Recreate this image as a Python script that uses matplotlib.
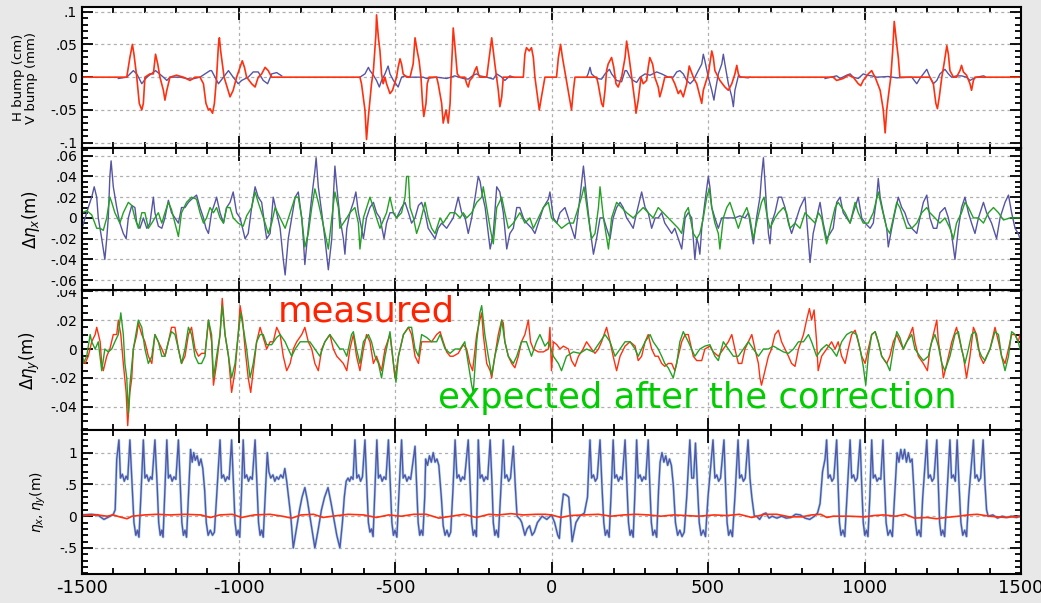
import numpy as np
import matplotlib
matplotlib.use("Agg")
from matplotlib import pyplot as plt
from matplotlib.ticker import MultipleLocator, FixedLocator, FuncFormatter
from matplotlib.transforms import Bbox, TransformedBbox

# ---- panel 1: orbit bumps (x, value) ----
bump_h = [(-1500, 0), (-1357, 0), (-1347, 0.03), (-1339, 0.05), (-1334, 0.035), (-1325, 0),
          (-1317, -0.04), (-1309, -0.05), (-1304, -0.04), (-1299, 0), (-1283, 0.005), (-1272, 0.005),
          (-1265, 0.035), (-1258, 0.02), (-1251, 0), (-1240, -0.02), (-1235, -0.035), (-1229, -0.02),
          (-1219, 0), (-1198, 0.003), (-1176, 0), (-1155, -0.005), (-1139, 0), (-1123, 0),
          (-1112, -0.01), (-1104, -0.04), (-1096, -0.05), (-1091, -0.048), (-1083, -0.055),
          (-1077, -0.04), (-1070, 0), (-1064, 0.05), (-1061, 0.06), (-1057, 0.04), (-1046, 0),
          (-1027, -0.03), (-1017, -0.02), (-1006, 0), (-988, 0.025), (-981, 0.015), (-974, 0),
          (-958, -0.01), (-947, -0.015), (-937, 0), (-926, 0.005), (-915, 0.015), (-905, 0.01),
          (-894, 0), (-612, 0), (-607, -0.01), (-596, -0.05), (-591, -0.095), (-585, -0.06),
          (-580, -0.035), (-575, -0.01), (-569, 0.01), (-561, 0.065), (-559, 0.095), (-553, 0.06),
          (-548, 0.04), (-543, 0.005), (-538, -0.01), (-532, 0), (-527, -0.01), (-516, -0.025),
          (-508, -0.02), (-495, 0), (-490, 0.015), (-484, 0.028), (-479, 0.02), (-474, 0.005),
          (-463, 0), (-452, 0), (-442, 0.02), (-436, 0.06), (-429, 0.04), (-423, 0.025), (-417, 0),
          (-412, -0.04), (-408, -0.06), (-401, -0.04), (-397, -0.01), (-391, 0), (-367, 0),
          (-362, -0.01), (-351, -0.04), (-346, -0.07), (-337, -0.05), (-330, -0.07), (-324, -0.04),
          (-321, 0), (-317, 0.04), (-314, 0.075), (-309, 0.05), (-301, 0.005), (-293, 0), (-277, 0),
          (-271, -0.01), (-266, -0.015), (-261, -0.005), (-252, 0), (-245, 0.01), (-239, 0.016),
          (-234, 0.005), (-229, 0), (-207, 0), (-199, 0.03), (-191, 0.06), (-186, 0.04),
          (-181, 0.02), (-170, -0.02), (-165, -0.045), (-159, -0.03), (-154, 0), (-90, 0),
          (-85, 0.035), (-80, 0.045), (-71, 0.04), (-64, 0.045), (-58, 0.03), (-53, 0),
          (-42, -0.04), (-39, -0.05), (-32, -0.03), (-21, 0), (16, 0), (22, 0.03), (29, 0.05),
          (35, 0.03), (46, 0), (57, -0.03), (64, -0.05), (70, -0.02), (75, 0), (144, 0),
          (149, -0.01), (160, -0.04), (165, -0.045), (171, -0.02), (176, 0.01), (181, 0.02),
          (192, 0.03), (199, 0.015), (206, -0.01), (213, -0.015), (224, 0), (235, 0.03),
          (240, 0.055), (248, 0.03), (256, 0), (267, -0.04), (270, -0.055), (277, -0.035),
          (286, 0), (293, -0.01), (304, -0.005), (309, 0.015), (314, 0.03), (323, 0.02), (330, 0),
          (341, -0.015), (346, -0.03), (352, -0.02), (362, 0), (384, 0), (394, -0.01),
          (405, -0.025), (412, -0.02), (421, -0.03), (432, -0.01), (440, 0.017), (453, 0),
          (464, -0.01), (480, -0.04), (485, -0.02), (501, 0.005), (512, 0.04), (517, 0.03),
          (522, 0.01), (538, -0.005), (554, -0.015), (565, -0.02), (576, -0.01), (586, 0.005),
          (592, 0.018), (597, 0.005), (602, 0), (900, 0), (911, -0.005), (932, -0.002),
          (948, 0.003), (964, 0), (980, -0.01), (988, -0.013), (996, -0.005), (1012, 0.005),
          (1023, 0.01), (1028, 0.005), (1034, 0), (1050, -0.02), (1060, -0.05), (1066, -0.085),
          (1071, -0.05), (1076, -0.03), (1084, 0), (1090, 0.04), (1095, 0.085), (1103, 0.05),
          (1108, 0.03), (1113, 0), (1209, 0), (1220, -0.01), (1228, -0.04), (1233, -0.048),
          (1239, -0.03), (1247, 0), (1254, 0.02), (1263, 0.048), (1268, 0.035), (1273, 0.01),
          (1284, 0), (1294, 0), (1305, 0.01), (1310, 0.018), (1316, 0.008), (1326, 0.003),
          (1337, -0.01), (1342, -0.02), (1348, -0.005), (1353, 0), (1500, 0)]

bump_v_1 = [(-1384, -0.002), (-1357, 0), (-1336, 0.01), (-1325, 0.005), (-1309, -0.01), (-1293, 0),
            (-1265, 0.01), (-1240, 0), (-1229, -0.005), (-1219, 0), (-1187, 0), (-1166, -0.002),
            (-1150, -0.003), (-1123, 0), (-1091, 0.01), (-1086, 0.01), (-1075, 0), (-1064, -0.01),
            (-1048, 0), (-1032, 0.01), (-1017, 0), (-1001, -0.01), (-990, -0.005), (-969, 0),
            (-953, 0.008), (-937, 0.008), (-921, -0.005), (-907, -0.01), (-894, 0.005),
            (-878, 0.007), (-862, 0.002)]
bump_v_2 = [(-612, 0), (-596, 0.005), (-585, 0.015), (-580, 0.01), (-569, 0.003), (-559, -0.005),
            (-550, -0.015), (-543, -0.005), (-532, 0.005), (-522, 0.017), (-516, 0.005),
            (-505, -0.005), (-490, -0.015), (-479, 0), (-468, 0.002), (-452, 0), (-410, 0),
            (-399, -0.002), (-367, 0), (-335, -0.002), (-309, 0.002), (-282, -0.002),
            (-266, -0.003), (-250, 0.003), (-239, 0.005), (-229, 0.002), (-207, 0), (-186, -0.003),
            (-175, 0.005), (-159, 0), (-149, -0.005), (-133, 0.002), (-122, 0)]
bump_v_3 = [(112, 0), (117, 0.005), (123, 0.015), (128, 0.005), (144, -0.002), (160, -0.003),
            (171, 0.005), (185, 0.012), (192, 0.005), (208, -0.005), (224, -0.007), (235, 0.01),
            (240, 0.01), (251, 0), (261, -0.005), (272, -0.008), (283, 0), (299, 0.005),
            (315, 0.003), (336, 0.008), (352, 0.005), (373, 0), (389, 0), (400, 0.008), (410, 0.01),
            (421, 0.005), (432, -0.005), (443, -0.01), (453, -0.005), (469, 0.01), (480, 0.02),
            (485, 0.035), (490, 0.025), (501, 0), (512, -0.02), (519, -0.035), (522, -0.025),
            (533, 0.005), (544, 0.02), (549, 0.035), (554, 0.02), (565, -0.01), (576, -0.03),
            (581, -0.045), (586, -0.02), (597, 0.002), (608, 0), (629, -0.001), (634, 0)]
bump_v_4 = [(874, -0.002), (911, 0.002), (922, -0.002), (943, 0.003), (954, 0.005), (964, 0),
            (980, -0.002), (996, 0.005), (1007, 0.003), (1023, 0.002), (1039, 0), (1076, 0.001),
            (1103, -0.001), (1151, 0), (1167, -0.01), (1177, -0.002), (1188, 0.005), (1199, 0.012),
            (1209, 0), (1220, -0.01), (1231, -0.005), (1241, 0.005), (1257, 0.012), (1268, 0.005),
            (1278, 0), (1294, 0.002), (1310, 0.002), (1326, 0), (1337, -0.005), (1348, -0.002),
            (1359, 0), (1380, 0.002), (1385, 0.001)]

# ---- panel 2: horizontal dispersion error ----
deta_x_meas = [(-1500, -0.01), (-1490, 0), (-1480, 0.01), (-1469, 0.02), (-1461, 0.03), (-1453, 0.02),
               (-1448, 0), (-1437, -0.02), (-1427, -0.04), (-1421, -0.02), (-1416, 0), (-1411, 0.04),
               (-1407, 0.055), (-1400, 0.03), (-1389, 0.01), (-1379, -0.005), (-1368, -0.015),
               (-1359, -0.02), (-1352, 0), (-1341, 0.012), (-1331, 0.01), (-1325, -0.005),
               (-1315, -0.01), (-1304, 0), (-1293, -0.01), (-1283, -0.005), (-1272, 0.02),
               (-1267, 0.005), (-1256, -0.008), (-1245, -0.01), (-1235, 0), (-1224, 0.017),
               (-1214, 0.005), (-1203, 0), (-1192, -0.005), (-1182, 0.01), (-1171, 0.01),
               (-1160, 0.015), (-1150, 0.018), (-1134, 0.022), (-1123, 0.01), (-1112, 0),
               (-1104, -0.01), (-1096, -0.015), (-1086, 0.005), (-1075, 0.015), (-1070, 0.02),
               (-1059, 0.005), (-1048, -0.005), (-1038, 0.01), (-1027, 0.015), (-1017, 0.025),
               (-1006, 0.005), (-995, 0), (-979, -0.02), (-969, -0.015), (-958, 0.01), (-947, 0.03),
               (-937, 0.02), (-926, 0.015), (-915, -0.01), (-910, -0.02), (-899, -0.015),
               (-889, 0.02), (-878, 0.005), (-867, -0.01), (-857, -0.04), (-851, -0.055),
               (-841, -0.02), (-830, 0), (-819, 0.02), (-809, 0.025), (-798, 0), (-793, -0.02),
               (-788, -0.045), (-777, -0.01), (-766, 0.02), (-756, 0.045), (-752, 0.058),
               (-745, 0.03), (-734, 0.005), (-724, -0.02), (-713, -0.05), (-702, -0.02),
               (-697, 0.02), (-692, 0.05), (-686, 0.03), (-676, 0), (-665, -0.02), (-660, -0.035),
               (-654, -0.01), (-644, 0.005), (-633, 0.015), (-625, 0.025), (-617, 0.005),
               (-607, -0.01), (-601, -0.02), (-591, 0), (-580, 0.01), (-569, 0.015), (-559, 0.005),
               (-548, 0), (-535, -0.02), (-527, -0.005), (-516, 0.005), (-505, 0.005), (-495, 0),
               (-479, 0.01), (-468, 0.015), (-457, 0.005), (-447, -0.005), (-436, 0), (-425, 0.012),
               (-415, 0.015), (-404, 0.005), (-394, -0.01), (-372, -0.02), (-362, -0.01),
               (-351, -0.005), (-335, -0.01), (-314, 0), (-298, 0.02), (-287, 0.005), (-276, 0),
               (-266, -0.015), (-255, 0), (-244, 0.02), (-234, 0.04), (-228, 0.035), (-223, 0.025),
               (-212, 0.01), (-202, -0.015), (-196, -0.03), (-186, -0.015), (-175, 0.03),
               (-165, 0.025), (-154, 0.005), (-143, -0.03), (-133, -0.015), (-122, -0.01),
               (-111, 0.01), (-101, 0.01), (-90, 0), (-79, -0.005), (-63, -0.01), (-53, -0.015),
               (-37, 0), (-26, 0.01), (-10, 0.018), (-5, 0.025), (6, 0), (17, -0.005), (27, 0.005),
               (43, 0.01), (59, -0.005), (75, -0.02), (91, 0.02), (102, 0.05), (112, 0.02),
               (123, -0.01), (134, -0.035), (144, -0.02), (155, 0), (166, 0), (176, -0.01),
               (187, -0.02), (197, 0), (208, 0.01), (219, 0.015), (229, 0.01), (240, 0),
               (251, -0.005), (261, -0.01), (272, 0.005), (288, 0.025), (299, 0.01), (309, 0.005),
               (320, -0.01), (331, 0), (341, 0), (352, 0.005), (362, -0.005), (373, -0.01),
               (384, -0.015), (394, -0.01), (405, -0.02), (416, -0.03), (427, 0), (437, 0.005),
               (448, 0), (453, -0.02), (458, -0.04), (464, -0.02), (469, -0.025), (474, -0.035),
               (480, -0.01), (490, 0.015), (501, 0.04), (506, 0.03), (512, 0.01), (522, 0),
               (533, -0.01), (544, 0), (560, 0), (586, 0), (602, 0.002), (618, 0), (629, 0.005),
               (640, -0.015), (645, -0.025), (655, 0), (666, 0.02), (671, 0.04), (677, 0.058),
               (682, 0.035), (687, 0.01), (693, -0.015), (698, -0.025), (703, -0.005), (714, 0.005),
               (725, 0.02), (735, 0.02), (746, 0.01), (757, -0.005), (767, -0.015), (778, -0.005),
               (794, 0.01), (810, 0.02), (815, 0), (826, -0.043), (836, -0.015), (847, 0),
               (858, 0.015), (868, -0.005), (879, -0.02), (890, -0.015), (900, -0.01), (911, 0.015),
               (922, 0.02), (932, 0.005), (943, 0), (954, -0.005), (964, 0.005), (975, 0.015),
               (980, 0.02), (991, 0), (1002, -0.005), (1018, -0.01), (1028, -0.005), (1039, 0.02),
               (1044, 0.038), (1050, 0.02), (1060, 0.005), (1071, -0.01), (1076, -0.028),
               (1087, -0.01), (1097, 0.005), (1108, 0.02), (1119, 0.01), (1129, 0.005),
               (1140, -0.005), (1151, -0.01), (1167, -0.015), (1177, 0), (1188, 0.015),
               (1199, 0.022), (1209, 0), (1220, -0.01), (1231, -0.01), (1241, 0.005), (1257, 0.01),
               (1268, 0), (1278, -0.015), (1289, -0.04), (1300, -0.01), (1310, 0.01), (1321, 0.02),
               (1332, 0.005), (1342, -0.005), (1353, -0.015), (1364, 0), (1380, 0.015),
               (1390, 0.005), (1406, -0.005), (1422, -0.02), (1433, 0), (1449, 0.015),
               (1460, 0.022), (1470, 0.005), (1481, -0.01), (1491, -0.015), (1497, -0.02)]

deta_x_corr = [(-1500, 0.005), (-1485, 0.007), (-1469, 0.003), (-1453, -0.01), (-1442, -0.01),
               (-1432, -0.012), (-1421, 0), (-1411, 0.02), (-1405, 0.015), (-1395, 0.005),
               (-1379, -0.005), (-1368, 0.005), (-1352, 0.015), (-1341, 0.012), (-1331, 0),
               (-1320, -0.01), (-1309, 0.005), (-1299, 0.005), (-1288, -0.01), (-1277, -0.005),
               (-1267, 0), (-1256, 0.005), (-1245, -0.005), (-1235, 0.005), (-1224, 0.015),
               (-1214, 0.008), (-1203, -0.005), (-1192, -0.018), (-1182, 0.005), (-1166, 0.015),
               (-1150, 0.02), (-1134, 0.018), (-1123, 0.005), (-1112, -0.005), (-1102, 0),
               (-1091, 0.01), (-1080, 0.005), (-1070, 0.01), (-1059, 0), (-1048, -0.005),
               (-1038, 0.01), (-1027, 0.01), (-1017, 0), (-1001, -0.005), (-985, -0.008),
               (-974, 0.002), (-958, 0.01), (-947, 0.025), (-937, 0.015), (-926, 0.005),
               (-915, -0.005), (-905, -0.015), (-894, -0.005), (-883, 0.01), (-867, 0),
               (-851, -0.01), (-835, 0.005), (-819, 0.02), (-809, 0.02), (-798, 0), (-788, -0.028),
               (-777, -0.015), (-766, 0.01), (-756, 0.028), (-745, 0.015), (-734, 0),
               (-713, -0.03), (-702, 0), (-692, 0.025), (-681, 0.01), (-676, -0.01), (-654, 0),
               (-644, 0.005), (-628, 0.01), (-617, -0.005), (-612, -0.03), (-601, 0), (-580, 0.02),
               (-569, 0.01), (-559, 0), (-548, -0.01), (-527, 0.005), (-516, 0.02), (-505, 0.005),
               (-495, 0), (-479, 0.005), (-468, 0.02), (-463, 0.04), (-457, 0.04), (-452, 0.01),
               (-441, 0), (-431, -0.015), (-420, -0.005), (-404, 0.015), (-394, 0), (-383, -0.01),
               (-372, -0.015), (-356, 0), (-346, -0.005), (-324, 0.005), (-308, 0.005), (-292, 0),
               (-282, 0.005), (-271, 0), (-255, 0.005), (-239, 0.015), (-223, 0.02), (-218, 0.03),
               (-207, 0.01), (-196, -0.01), (-186, -0.025), (-175, 0.01), (-159, 0.02),
               (-149, 0.005), (-138, -0.01), (-122, -0.005), (-101, 0.005), (-85, -0.005),
               (-69, 0), (-58, -0.01), (-42, 0), (-26, 0.01), (-10, 0.015), (0, 0), (17, -0.005),
               (32, -0.01), (54, -0.005), (70, -0.005), (86, 0.01), (96, 0.02), (104, 0.03),
               (118, 0), (128, -0.02), (139, -0.015), (150, 0.01), (155, 0.03), (166, 0),
               (182, -0.03), (192, 0), (208, 0.015), (224, 0.01), (240, 0.005), (261, 0),
               (277, 0.005), (293, 0.01), (309, 0.005), (325, 0), (341, 0.01), (357, 0.005),
               (373, 0), (389, -0.005), (405, -0.01), (416, -0.015), (427, 0.005), (437, 0.01),
               (453, -0.015), (464, -0.02), (474, -0.015), (485, 0), (496, 0.02), (504, 0.028),
               (512, 0.01), (522, -0.005), (533, -0.015), (538, -0.03), (549, 0), (560, 0.01),
               (570, 0.015), (581, 0.005), (597, -0.01), (608, 0), (624, 0.01), (634, 0),
               (645, -0.02), (655, -0.005), (671, 0.015), (679, 0.02), (687, 0.005), (698, -0.01),
               (714, 0), (725, 0.005), (741, 0.01), (751, 0.005), (762, -0.01), (778, -0.005),
               (794, -0.01), (810, 0.005), (826, 0), (842, -0.005), (853, 0.005), (863, 0),
               (879, -0.025), (890, -0.01), (906, 0.01), (916, 0.015), (927, 0.01), (938, 0.005),
               (954, -0.005), (970, 0.015), (980, 0.005), (996, -0.005), (1012, -0.005),
               (1028, 0.005), (1044, 0.025), (1055, 0.01), (1071, -0.01), (1081, -0.015),
               (1092, 0), (1103, 0.015), (1113, 0.01), (1124, 0), (1135, -0.01), (1151, -0.01),
               (1167, -0.005), (1183, 0.005), (1199, 0.01), (1209, 0.005), (1225, 0),
               (1241, -0.005), (1257, 0), (1273, -0.01), (1284, -0.02), (1294, -0.005),
               (1310, 0.005), (1321, 0.015), (1332, 0.01), (1348, 0), (1364, 0), (1380, -0.005),
               (1396, 0.005), (1412, 0.01), (1428, 0.005), (1444, -0.002), (1465, 0), (1481, 0),
               (1497, 0)]

# ---- panel 3: vertical dispersion error ----
deta_y_meas = [(-1500, -0.005), (-1490, -0.01), (-1480, -0.005), (-1469, 0.005), (-1458, 0.01),
               (-1453, 0.015), (-1442, 0.005), (-1437, -0.01), (-1432, -0.015), (-1421, -0.005),
               (-1411, 0), (-1400, 0.01), (-1389, 0.01), (-1384, 0.02), (-1376, 0.01),
               (-1368, -0.01), (-1359, -0.03), (-1354, -0.053), (-1347, -0.03), (-1341, -0.02),
               (-1336, 0), (-1325, 0.01), (-1320, 0.018), (-1309, 0.01), (-1299, 0.005),
               (-1288, -0.005), (-1277, -0.01), (-1267, 0.01), (-1256, 0.005), (-1245, 0),
               (-1235, -0.005), (-1224, 0.005), (-1214, 0.015), (-1203, 0.015), (-1192, 0),
               (-1182, -0.01), (-1171, -0.005), (-1160, 0.01), (-1150, 0.015), (-1139, 0),
               (-1128, -0.005), (-1118, -0.003), (-1107, -0.003), (-1096, 0.02), (-1086, 0.005),
               (-1080, -0.025), (-1070, -0.01), (-1059, 0.01), (-1052, 0.035), (-1043, 0.01),
               (-1032, -0.005), (-1022, -0.03), (-1011, -0.015), (-1001, 0.01), (-995, 0.03),
               (-987, 0.02), (-979, 0), (-969, -0.02), (-961, -0.03), (-953, -0.015),
               (-942, 0.005), (-931, 0.015), (-921, 0.008), (-910, 0), (-899, 0.005), (-889, 0.005),
               (-878, 0.015), (-867, 0.01), (-857, -0.005), (-846, -0.015), (-835, -0.01),
               (-825, 0), (-814, 0.005), (-798, 0.01), (-788, 0.015), (-777, 0.005), (-766, 0),
               (-756, -0.01), (-745, -0.015), (-734, 0), (-724, 0.005), (-708, 0.01), (-697, 0),
               (-686, -0.005), (-665, -0.01), (-654, -0.015), (-644, 0), (-633, 0.01),
               (-623, -0.005), (-612, -0.015), (-601, 0), (-591, 0.01), (-580, 0.005),
               (-569, -0.01), (-559, -0.005), (-543, -0.015), (-532, 0), (-516, 0.01),
               (-505, -0.01), (-500, -0.02), (-489, -0.005), (-473, 0.01), (-457, 0.015),
               (-447, 0.01), (-436, -0.005), (-425, -0.01), (-415, 0.005), (-399, 0.005),
               (-383, 0.005), (-367, 0.01), (-356, 0.012), (-346, 0.005), (-335, -0.002),
               (-324, -0.005), (-314, -0.005), (-298, -0.003), (-282, 0.003), (-271, 0),
               (-261, -0.01), (-252, -0.015), (-239, 0.01), (-229, 0.02), (-223, 0.025),
               (-218, 0.01), (-207, -0.01), (-196, -0.015), (-191, -0.02), (-181, -0.005),
               (-170, 0.01), (-159, 0.02), (-154, 0.018), (-149, 0.005), (-138, -0.005),
               (-127, -0.01), (-117, -0.013), (-106, -0.005), (-96, 0.005), (-85, 0.01),
               (-74, 0.02), (-67, 0.005), (-58, 0), (-42, -0.002), (-26, -0.002), (-10, 0),
               (-5, 0.015), (0, -0.015), (6, 0.005), (17, 0.003), (27, 0), (38, 0.002), (54, 0),
               (64, -0.008), (75, -0.012), (86, -0.005), (101, 0), (112, 0.005), (128, 0),
               (139, -0.003), (150, 0), (160, 0.005), (176, 0.015), (187, 0.005), (197, -0.005),
               (208, -0.015), (219, -0.005), (235, 0.002), (251, 0.005), (267, 0.002),
               (277, -0.008), (288, -0.005), (299, 0.005), (309, 0.01), (320, 0), (331, -0.005),
               (341, -0.005), (352, -0.01), (362, -0.012), (373, -0.01), (384, -0.01),
               (394, -0.015), (405, -0.005), (416, 0.005), (427, 0.01), (437, 0.01), (453, -0.005),
               (464, -0.008), (480, -0.008), (490, 0), (506, 0.002), (517, -0.002), (533, -0.005),
               (549, 0), (565, 0.005), (576, 0.01), (586, 0), (597, -0.01), (608, -0.01), (618, 0),
               (629, 0.005), (640, 0.01), (650, 0), (661, -0.01), (666, -0.02), (671, -0.025),
               (682, -0.015), (693, -0.005), (703, 0), (714, 0.01), (725, 0.013), (735, 0.005),
               (746, 0), (757, -0.005), (767, -0.01), (778, -0.012), (789, 0), (805, 0.01),
               (815, 0.02), (824, 0.028), (831, 0.02), (839, 0.027), (847, 0.005), (852, -0.015),
               (863, -0.005), (879, 0), (895, 0.005), (906, 0), (916, 0.005), (927, -0.005),
               (938, -0.01), (948, 0), (959, 0.01), (970, 0.013), (980, 0.005), (991, -0.005),
               (1002, -0.01), (1012, 0), (1023, 0.01), (1034, 0.012), (1044, 0.005),
               (1055, -0.005), (1071, -0.01), (1081, -0.005), (1092, 0.005), (1103, 0.01),
               (1113, 0.005), (1124, 0), (1135, 0.005), (1145, 0.01), (1154, 0.015),
               (1161, 0.005), (1172, -0.005), (1188, -0.01), (1201, -0.015), (1209, 0),
               (1220, 0.01), (1231, 0.02), (1236, 0.005), (1247, -0.01), (1252, -0.02),
               (1263, -0.01), (1279, 0.005), (1294, 0.015), (1305, 0.005), (1316, -0.005),
               (1326, -0.02), (1337, -0.005), (1348, 0.015), (1358, 0.01), (1369, -0.005),
               (1380, -0.01), (1390, -0.005), (1401, 0), (1417, 0.015), (1428, 0.005),
               (1438, -0.005), (1449, -0.01), (1460, 0), (1470, 0.01), (1481, 0.01),
               (1491, 0.005), (1497, 0.01)]

deta_y_corr = [(-1500, 0), (-1496, -0.01), (-1485, -0.005), (-1474, 0.01), (-1469, 0.005),
               (-1458, 0), (-1448, 0.005), (-1437, -0.015), (-1427, 0), (-1416, -0.002),
               (-1405, 0), (-1395, 0.005), (-1384, 0.01), (-1376, 0.025), (-1368, 0.01),
               (-1363, -0.01), (-1357, -0.02), (-1352, -0.045), (-1347, -0.025), (-1336, 0),
               (-1320, 0.02), (-1309, 0.015), (-1299, 0), (-1288, -0.01), (-1277, -0.005),
               (-1267, 0.01), (-1256, 0.005), (-1245, -0.005), (-1235, -0.005), (-1224, 0.005),
               (-1214, 0.012), (-1203, 0.01), (-1192, 0), (-1182, -0.01), (-1171, 0),
               (-1160, 0.015), (-1150, 0.01), (-1139, -0.005), (-1128, -0.01), (-1118, -0.01),
               (-1107, -0.005), (-1096, 0.02), (-1086, 0.01), (-1080, -0.02), (-1070, -0.005),
               (-1059, 0.01), (-1052, 0.03), (-1043, 0.01), (-1032, -0.005), (-1022, -0.02),
               (-1011, -0.01), (-1001, 0.01), (-993, 0.025), (-985, 0.015), (-974, 0),
               (-963, -0.02), (-953, -0.01), (-942, 0.005), (-931, 0.01), (-921, 0.01),
               (-910, 0.003), (-894, 0.003), (-878, 0.008), (-867, 0.01), (-851, 0.005),
               (-841, 0), (-830, -0.005), (-819, 0), (-803, 0.005), (-788, 0.005), (-772, 0.005),
               (-756, 0), (-740, -0.005), (-724, 0.005), (-708, 0.01), (-692, 0.005), (-676, 0),
               (-665, 0), (-654, -0.005), (-639, 0.01), (-633, 0.012), (-623, 0), (-612, -0.01),
               (-601, 0.005), (-585, 0.01), (-575, 0.005), (-564, -0.005), (-553, -0.01),
               (-543, -0.02), (-532, -0.005), (-516, 0.012), (-505, -0.01), (-497, -0.023),
               (-489, -0.005), (-473, 0.01), (-457, 0.015), (-447, 0.015), (-436, 0),
               (-425, -0.005), (-415, 0.01), (-399, 0.008), (-383, 0.005), (-367, 0.005),
               (-356, 0.01), (-340, 0), (-324, -0.003), (-308, 0), (-292, 0), (-277, 0.005),
               (-266, -0.01), (-255, -0.025), (-250, -0.03), (-239, 0.005), (-229, 0.025),
               (-223, 0.03), (-213, 0.01), (-202, -0.005), (-191, -0.018), (-181, -0.005),
               (-165, 0.01), (-159, 0.02), (-149, 0.005), (-138, -0.005), (-122, -0.01),
               (-111, -0.005), (-96, 0.005), (-80, 0.005), (-64, -0.005), (-48, 0.005),
               (-37, 0.01), (-21, 0.002), (-10, 0.005), (6, -0.005), (22, -0.01), (32, -0.015),
               (48, -0.005), (70, -0.002), (91, -0.003), (112, 0), (133, -0.002), (155, 0.005),
               (171, 0.01), (187, 0.005), (203, -0.005), (219, 0), (235, 0.005), (251, 0.005),
               (267, 0), (277, -0.005), (288, 0), (299, 0.005), (315, 0.01), (325, 0.005),
               (341, 0), (352, -0.005), (362, -0.01), (373, -0.013), (389, -0.02), (400, -0.01),
               (410, 0.005), (421, 0.012), (437, 0.005), (458, -0.005), (474, 0), (490, 0.002),
               (506, 0.003), (522, -0.005), (533, -0.008), (549, 0.005), (565, 0), (581, -0.005),
               (597, -0.005), (613, 0), (629, 0.005), (645, 0), (661, -0.005), (677, 0), (693, 0),
               (709, 0.002), (725, 0), (741, -0.002), (757, -0.003), (773, 0), (789, 0.005),
               (805, 0.005), (821, 0.01), (831, 0.005), (847, -0.005), (863, 0), (879, 0.003),
               (895, 0), (911, -0.005), (927, 0.005), (943, 0.01), (959, 0.012), (975, 0.01),
               (986, 0), (996, -0.012), (1004, -0.025), (1012, -0.005), (1023, 0.01),
               (1034, 0.012), (1044, 0.005), (1055, -0.005), (1071, -0.01), (1081, -0.015),
               (1092, 0), (1103, 0.012), (1113, 0.008), (1124, 0), (1135, 0.005), (1151, 0.01),
               (1161, 0), (1177, -0.005), (1188, -0.008), (1204, -0.005), (1215, 0.005),
               (1225, 0.01), (1236, 0.002), (1247, -0.01), (1257, -0.015), (1273, -0.005),
               (1289, 0.01), (1300, 0.012), (1310, 0), (1321, -0.01), (1332, 0), (1342, 0.01),
               (1353, 0.012), (1364, 0), (1374, -0.005), (1385, -0.008), (1401, 0), (1417, 0.012),
               (1428, 0.01), (1438, -0.005), (1449, -0.015), (1460, -0.005), (1470, 0.012),
               (1481, 0.01), (1491, 0.005), (1497, 0)]

# ---- panel 4: design dispersion ----
eta_x = [(-1500, 0.02), (-1470, 0.03), (-1450, 0.02), (-1430, -0.05), (-1410, 0), (-1400, 0.03),
         (-1394, 0.1), (-1389, 0.9), (-1382, 1.2), (-1377, 0.6), (-1371, 0.66), (-1365, 0.55),
         (-1359, 0.63), (-1354, 0.58), (-1347, 1.2), (-1340, 0.5), (-1334, -0.1), (-1328, -0.3),
         (-1323, -0.22), (-1318, -0.33), (-1312, 0.3),
         (-1304, 1.2), (-1299, 0.6), (-1293, 0.65), (-1287, 0.55), (-1281, 0.62), (-1276, 0.58),
         (-1267, 1.2), (-1260, 0.5), (-1255, -0.1), (-1250, -0.3), (-1245, -0.22), (-1241, -0.33),
         (-1236, 0.3),
         (-1229, 1.2), (-1224, 0.6), (-1218, 0.65), (-1212, 0.55), (-1206, 0.62), (-1200, 0.58),
         (-1192, 1.2), (-1186, 0.5), (-1181, -0.1), (-1176, -0.3), (-1171, -0.22), (-1166, -0.33),
         (-1160, 0.3),
         (-1153, 1.05), (-1148, 0.85), (-1143, 1.0), (-1138, 0.88), (-1132, 0.95), (-1126, 0.8),
         (-1120, 0.9), (-1114, 0.75), (-1108, 0.4), (-1103, -0.1), (-1097, -0.3), (-1090, -0.22),
         (-1083, -0.3), (-1077, -0.25), (-1070, 0.3),
         (-1059, 1.2), (-1054, 0.6), (-1048, 0.65), (-1042, 0.55), (-1036, 0.62), (-1030, 0.58),
         (-1022, 1.2), (-1016, 0.5), (-1011, -0.1), (-1006, -0.3), (-1001, -0.22), (-996, -0.33),
         (-991, 0.3),
         (-985, 1.2), (-980, 0.6), (-974, 0.65), (-968, 0.55), (-962, 0.62), (-956, 0.58),
         (-947, 1.2), (-941, 0.5), (-936, -0.1), (-931, -0.3), (-926, -0.22), (-921, -0.33),
         (-915, 0.3),
         (-908, 1.0), (-903, 0.7), (-897, 0.6), (-890, 0.65), (-884, 0.55), (-878, 0.62),
         (-872, 0.58), (-865, 0.65), (-858, 0.6), (-852, 0.75), (-846, 0.55), (-840, 0.3),
         (-833, 0), (-825, -0.5),
         (-815, -0.2), (-805, 0.1), (-797, 0.3), (-788, 0.45), (-780, 0.25), (-772, 0),
         (-764, -0.25), (-756, -0.5), (-745, -0.2), (-735, 0.1), (-725, 0.3), (-714, 0.45),
         (-704, 0.2), (-695, -0.05), (-686, -0.3), (-676, -0.5), (-668, -0.1), (-662, 0.3),
         (-656, 0.55), (-650, 0.6), (-645, 0.55), (-640, 0.62), (-634, 0.58),
         (-628, 1.2), (-622, 0.6), (-616, 0.65), (-610, 0.55), (-604, 0.62), (-596, 1.2),
         (-590, 0.5), (-585, -0.1), (-580, -0.25), (-575, -0.2), (-570, -0.32), (-565, 0.3),
         (-558, 1.2), (-553, 0.6), (-547, 0.65), (-541, 0.55), (-535, 0.62), (-529, 0.58),
         (-521, 1.2), (-515, 0.5), (-510, -0.1), (-505, -0.3), (-500, -0.22), (-494, -0.33),
         (-488, 0.3),
         (-479, 1.2), (-474, 0.6), (-468, 0.65), (-462, 0.55), (-456, 0.62), (-450, 0.58),
         (-436, 1.1), (-431, 0.5), (-426, -0.1), (-421, -0.3), (-416, -0.22), (-411, -0.3),
         (-405, 0.3),
         (-402, 0.9), (-396, 0.8), (-390, 0.95), (-384, 0.85), (-378, 1.0), (-372, 0.85),
         (-366, 0.9), (-360, 0.8), (-352, 0.3), (-346, -0.15), (-340, -0.3), (-334, -0.22),
         (-328, -0.32), (-322, -0.25), (-315, 0.4),
         (-308, 1.2), (-302, 0.6), (-296, 0.65), (-290, 0.55), (-284, 0.62), (-278, 0.58),
         (-266, 1.2), (-260, 0.5), (-255, -0.1), (-250, -0.3), (-245, -0.22), (-240, -0.32),
         (-237, 0.3),
         (-234, 1.2), (-228, 0.6), (-222, 0.65), (-216, 0.55), (-210, 0.62), (-204, 0.58),
         (-196, 1.2), (-190, 0.5), (-186, -0.1), (-181, -0.3), (-176, -0.22), (-170, -0.33),
         (-163, 0.3),
         (-154, 1.2), (-149, 0.6), (-143, 0.65), (-137, 0.55), (-131, 0.6), (-122, 1.1),
         (-116, 0.5), (-110, 0), (-100, -0.05),
         (-95, -0.1), (-85, -0.3), (-78, -0.2), (-70, -0.15), (-62, -0.3), (-55, -0.25),
         (-45, -0.1), (-30, 0), (-15, -0.05), (0, 0.02), (10, -0.1), (20, -0.3), (25, -0.35),
         (32, 0.1), (38, 0.35), (48, 0.33), (55, 0.3), (60, 0), (66, -0.4), (70, -0.3),
         (78, -0.1), (90, 0), (105, 0.05), (115, 0.3), (120, 0.9),
         (123, 1.2), (128, 0.6), (134, 0.65), (140, 0.55), (146, 0.6), (155, 1.2), (161, 0.5),
         (167, -0.1), (172, -0.3), (178, -0.22), (184, -0.33), (190, 0.3),
         (197, 1.2), (202, 0.6), (208, 0.65), (214, 0.55), (220, 0.62), (226, 0.58), (235, 1.2),
         (241, 0.5), (246, -0.1), (251, -0.3), (256, -0.22), (261, -0.33), (266, 0.3),
         (272, 1.2), (277, 0.6), (283, 0.65), (289, 0.55), (295, 0.62), (301, 0.58), (309, 1.2),
         (314, 0.5), (319, -0.1), (324, -0.3), (330, -0.22), (336, -0.33), (342, 0.4),
         (347, 0.85), (353, 1.0), (359, 0.85), (365, 0.95), (371, 0.8), (377, 0.9), (383, 0.8),
         (389, 0.5), (396, -0.1), (403, -0.3), (410, -0.22), (417, -0.32), (424, -0.25),
         (432, 0.3),
         (442, 1.2), (448, 0.6), (454, 0.6), (460, 1.15), (466, 0.5), (472, -0.1), (478, -0.3),
         (485, -0.22), (492, -0.32), (500, 0.3),
         (516, 1.2), (522, 0.6), (528, 0.65), (534, 0.55), (540, 0.6), (551, 1.2), (556, 0.5),
         (561, -0.1), (566, -0.3), (572, -0.22), (578, -0.32), (586, 0.3),
         (596, 1.2), (601, 0.6), (607, 0.65), (613, 0.55), (619, 0.6), (628, 1.2), (634, 0.6),
         (640, 0.3), (648, 0), (655, 0),
         (665, -0.05), (675, 0.03), (685, 0.05), (695, -0.03), (705, 0), (720, -0.03), (735, 0),
         (750, -0.03), (765, -0.02), (780, 0.03), (795, 0.02), (810, -0.03), (825, -0.05),
         (840, 0), (850, 0.05),
         (858, 0.2), (866, 0.7), (874, 0.9), (879, 1.2), (884, 0.6), (890, 0.65), (896, 0.55),
         (902, 0.6), (911, 1.2), (916, 0.5), (920, -0.1), (925, -0.3), (931, -0.22),
         (937, -0.32), (944, 0.3),
         (954, 1.2), (959, 0.6), (965, 0.65), (971, 0.55), (977, 0.6), (986, 1.2), (991, 0.5),
         (996, -0.1), (1001, -0.3), (1006, -0.22), (1011, -0.32), (1017, 0.3),
         (1023, 1.2), (1028, 0.6), (1034, 0.65), (1040, 0.55), (1046, 0.6), (1052, 0.58),
         (1059, 1.2), (1064, 0.5), (1069, -0.1), (1075, -0.3), (1082, -0.22), (1089, -0.32),
         (1096, 0.3),
         (1104, 1.0), (1110, 0.85), (1116, 1.05), (1122, 0.9), (1128, 1.05), (1134, 0.85),
         (1140, 1.0), (1146, 0.85), (1152, 0.9), (1158, 0.4), (1163, -0.1), (1168, -0.3),
         (1174, -0.22), (1180, -0.32), (1186, 0.3),
         (1199, 1.2), (1204, 0.6), (1210, 0.65), (1216, 0.55), (1222, 0.6), (1231, 1.2),
         (1236, 0.5), (1240, -0.1), (1245, -0.3), (1250, -0.22), (1256, -0.32), (1263, 0.3),
         (1273, 1.2), (1278, 0.6), (1284, 0.65), (1290, 0.55), (1296, 1.2), (1302, 0.5),
         (1308, -0.1), (1314, -0.3), (1320, -0.22), (1326, -0.32), (1333, 0.3),
         (1348, 1.2), (1353, 0.6), (1359, 0.65), (1365, 0.55), (1371, 0.6), (1379, 1.2),
         (1385, 0.5), (1390, 0.1), (1395, 0),
         (1410, 0.02), (1425, -0.03), (1440, 0), (1455, -0.02), (1470, 0), (1485, -0.02),
         (1500, 0)]

eta_y = [(-1500, 0.01), (-1450, 0.02), (-1420, 0), (-1400, 0.02), (-1380, -0.01), (-1356, -0.04),
         (-1340, 0), (-1300, 0.02), (-1260, 0.03), (-1220, 0.02), (-1170, 0.03), (-1120, 0.02),
         (-1090, -0.02), (-1060, 0.02), (-1020, 0.03), (-990, -0.02), (-950, 0.02), (-900, 0.03),
         (-860, 0), (-830, -0.03), (-800, 0.02), (-760, 0.03), (-730, -0.02), (-700, 0),
         (-650, 0.03), (-600, 0.02), (-560, -0.02), (-520, 0.02), (-480, 0), (-440, 0.03),
         (-400, 0.03), (-360, -0.03), (-320, 0), (-280, 0.03), (-240, -0.02), (-200, 0.03),
         (-170, 0.02), (-130, 0.04), (-90, 0.02), (-50, 0.03), (-20, 0.03), (0, 0.02), (30, -0.02),
         (60, 0.01), (100, 0.02), (150, 0.03), (190, 0), (230, 0.02), (270, 0.03), (310, 0.02),
         (350, 0), (390, 0.02), (430, 0.01), (470, 0), (520, 0.02), (560, 0.01), (600, 0.03),
         (640, -0.02), (680, 0.03), (720, 0.03), (760, -0.01), (800, -0.01), (830, 0.02),
         (860, 0.03), (880, -0.02), (900, 0), (950, 0), (1000, -0.01), (1030, 0.01), (1060, 0.02),
         (1100, 0), (1130, 0.03), (1160, -0.03), (1200, -0.02), (1230, -0.04), (1260, -0.02),
         (1300, 0), (1330, 0.02), (1360, 0.03), (1400, 0), (1450, -0.02), (1500, 0)]

RED = "#ff3010"
BLUE = "#5555a5"
GREEN = "#25a025"
LIGHTBLUE = "#aad8f5"


def xy(pairs):
    a = np.array(pairs, dtype=float)
    return a[:, 0], a[:, 1]


def fmt(v, pos):
    if abs(v) < 1e-12:
        return "0"
    s = ("%g" % v)
    return s.replace("0.", ".")


plt.rcParams["font.family"] = ["DejaVu Sans"]
plt.rcParams["axes.unicode_minus"] = False
fig = plt.figure(figsize=(10.41, 6.03), dpi=100, facecolor="#e8e8e8")

left, width = 82 / 1041, 939 / 1041
rows = [(7, 148), (148, 290), (290, 430), (430, 574)]
axes = []
for top, bot in rows:
    ax = fig.add_axes([left, 1 - bot / 603, width, (bot - top) / 603])
    axes.append(ax)

ax1, ax2, ax3, ax4 = axes

# panel 1
for seg in (bump_v_1, bump_v_2, bump_v_3, bump_v_4):
    ax1.plot(*xy(seg), color=BLUE, lw=1.0)
ax1.plot(*xy(bump_h), color=RED, lw=1.2)
ax1.set_ylim(-0.108, 0.107)
ax1.yaxis.set_major_locator(FixedLocator([-0.1, -0.05, 0, 0.05, 0.1]))
ax1.yaxis.set_minor_locator(MultipleLocator(0.01))
ax1.text(-0.068, 0.5, "H bump (cm)", transform=ax1.transAxes, rotation=90,
         ha="center", va="center", fontsize=9.5)
ax1.text(-0.054, 0.5, "V bump (mm)", transform=ax1.transAxes, rotation=90,
         ha="center", va="center", fontsize=9.5)

# panel 2
ax2.plot(*xy(deta_x_meas), color=BLUE, lw=1.0)
ax2.plot(*xy(deta_x_corr), color=GREEN, lw=1.0)
ax2.set_ylim(-0.0695, 0.0674)
ax2.yaxis.set_major_locator(FixedLocator([-0.06, -0.04, -0.02, 0, 0.02, 0.04, 0.06]))
ax2.yaxis.set_minor_locator(MultipleLocator(0.005))
ax2.set_ylabel(r"$\Delta\eta_x$(m)", fontsize=12, labelpad=6)

# panel 3
ax3.plot(*xy(deta_y_meas), color=RED, lw=1.0)
ax3.plot(*xy(deta_y_corr), color=GREEN, lw=1.0)
ax3.set_ylim(-0.056, 0.0408)
ax3.yaxis.set_major_locator(FixedLocator([-0.04, -0.02, 0, 0.02, 0.04]))
ax3.yaxis.set_minor_locator(MultipleLocator(0.005))
ax3.set_ylabel(r"$\Delta\eta_y$(m)", fontsize=12, labelpad=6)
ax3.text(-593, 0.026, "measured", color="#ff2200", fontsize=25.5, ha="center", va="center")
ax3.text(465, -0.034, "expected after the correction", color="#00cc00", fontsize=25.5,
         ha="center", va="center")

# panel 4
ex, ey = xy(eta_x)
ax4.plot(ex, ey, color=LIGHTBLUE, lw=1.9)
ax4.plot(ex, ey, color=BLUE, lw=1.0)
ax4.plot(*xy(eta_y), color=RED, lw=1.2)
ax4.set_ylim(-0.909, 1.356)
ax4.yaxis.set_major_locator(FixedLocator([-0.5, 0, 0.5, 1]))
ax4.yaxis.set_minor_locator(MultipleLocator(0.1))
ax4.set_ylabel(r"$\eta_x,\eta_y$(m)", fontsize=10, labelpad=8)

for i, ax in enumerate(axes):
    ax.set_xlim(-1500, 1500)
    ax.xaxis.set_major_locator(MultipleLocator(500))
    ax.xaxis.set_minor_locator(MultipleLocator(100))
    ax.yaxis.set_major_formatter(FuncFormatter(fmt))
    ax.grid(True, which="major", color="#b0b0b0", ls=(0, (2.5, 2.5)), lw=0.9)
    ax.set_axisbelow(True)
    ax.tick_params(which="both", direction="in", top=True, right=True, width=1.3, colors="black")
    ax.tick_params(which="major", length=8, labelsize=10)
    ax.tick_params(which="minor", length=4)
    ax.tick_params(axis="x", which="major", length=9)
    for sp in ax.spines.values():
        sp.set_linewidth(1.5)
    if i < 3:
        ax.tick_params(axis="x", labelbottom=False)

ax4.tick_params(axis="x", labelsize=13)
ax4.xaxis.set_major_formatter(FuncFormatter(lambda v, p: "%d" % v))

# the top label of panel 3 is cut by the panel above, as in the original
fig.canvas.draw()
clip = TransformedBbox(Bbox([[0, 0], [1, 1 - 290 / 603]]), fig.transFigure)
for lab in ax3.yaxis.get_majorticklabels():
    lab.set_clip_box(clip)
    lab.set_clip_on(True)

fig.savefig("out.png", dpi=100, facecolor=fig.get_facecolor())
